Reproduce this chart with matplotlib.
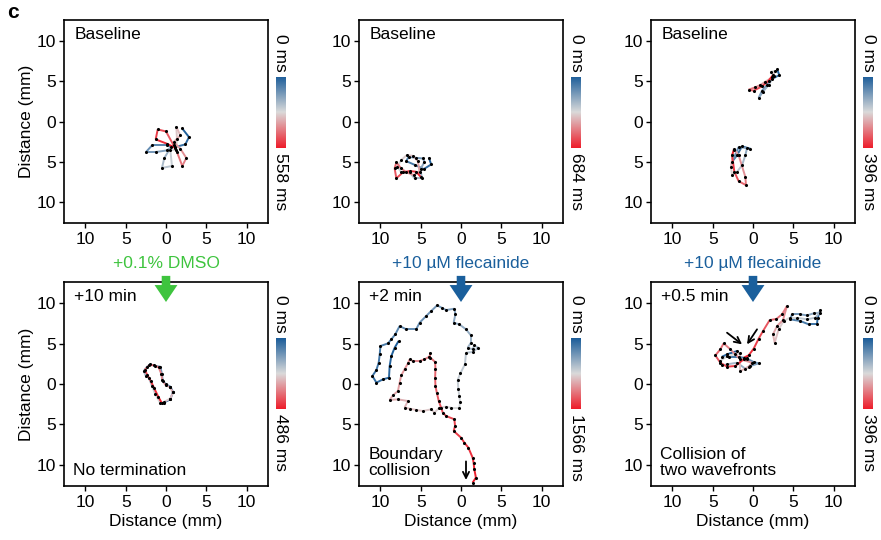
import numpy as np
import matplotlib
matplotlib.use("Agg")
import matplotlib.pyplot as plt
from matplotlib.collections import LineCollection
from matplotlib.colors import LinearSegmentedColormap, Normalize
from matplotlib.patches import Polygon

plt.rcParams['font.family'] = ['Liberation Sans', 'DejaVu Sans']
plt.rcParams['font.size'] = 12

# ---------------- data (mm) ----------------
# Panel A: baseline (DMSO experiment), duration 558 ms
a_x = [1.98, 2.85, 2.40, 1.16, 0.12, -1.74, -2.48, -1.24, 0.12, 0.62, -0.21, -0.50, 0.74, 0.54, 1.24,
       1.36, 1.28, 1.78, 0.95, 1.78, 2.52, 2.02, 1.36, 0.95, 0.00, -1.03, -1.28, 0.12, 1.16]
a_y = [-0.83, -1.94, -2.85, -3.18, -2.98, -2.98, -3.80, -3.80, -3.60, -3.18, -4.55, -5.79, -5.54, -3.60, -3.60,
       -2.15, -0.66, -1.74, -2.56, -3.39, -4.55, -5.54, -3.80, -2.98, -1.24, -0.99, -2.23, -2.77, -3.30]
a_T = 558

# Panel B: baseline (flecainide 1), duration 684 ms
b_x = [-3.99, -3.70, -4.61, -5.68, -6.79, -6.50, -5.56, -4.73, -4.53, -5.02, -4.86, -5.76, -6.38, -7.41, -7.90,
       -7.41, -6.75, -5.97, -5.35, -5.14, -5.84, -6.79, -7.49, -8.02, -8.23, -8.02, -7.20, -6.38, -5.56, -5.02]
b_y = [-4.49, -5.35, -5.93, -5.43, -4.94, -4.40, -4.53, -4.61, -5.02, -5.93, -7.08, -7.08, -6.34, -6.34, -5.64,
       -4.81, -4.20, -4.28, -4.94, -6.26, -6.67, -6.34, -5.76, -5.10, -5.84, -7.08, -6.34, -6.17, -6.26, -6.87]
b_T = 684

# Panel C: baseline (flecainide 2), two rotors, duration 396 ms
c1_x = [2.98, 3.26, 2.36, 1.74, 1.12, 0.70, 1.24, 1.94, 2.56, 2.23, 2.77, 2.36, 1.53, 0.91, 0.29, -0.54, 0.08,
        1.12, 1.94, 2.48]
c1_y = [6.53, 5.79, 5.29, 4.55, 3.84, 2.93, 3.72, 4.55, 5.62, 6.20, 6.32, 5.50, 4.96, 4.55, 4.26, 3.97, 3.84,
        4.38, 5.08, 5.79]
c2_x = [-0.33, -1.36, -1.98, -2.60, -1.78, -0.74, -0.95, -1.36, -1.98, -2.60, -2.73, -2.40, -1.78, -0.95, -0.87,
        -1.78, -2.31, -2.60, -2.40]
c2_y = [-3.39, -3.10, -4.21, -5.04, -3.18, -3.31, -4.21, -5.45, -6.28, -6.69, -5.66, -3.39, -4.21, -6.90, -7.93,
        -7.44, -6.28, -4.21, -3.60]
c_T = 396

# Panel D: +10 min DMSO, duration 486 ms
d_x = [-0.29, 0.54, 0.87, 0.54, 0.00, -0.41, -0.50, -0.70, -1.32, -1.94, -2.36, -2.77, -2.48, -2.15, -1.74,
       -1.32, -0.70, -0.29, 0.54, 0.87, 0.50, -0.05, -0.45, -0.60, -0.90, -1.55, -2.10, -2.62, -2.30, -1.90,
       -1.45, -0.95, -0.55]
d_y = [-2.31, -1.90, -0.99, -0.33, -0.04, 0.37, 1.20, 2.15, 2.23, 2.44, 2.15, 1.61, 0.95, 0.79, -0.25,
       -1.28, -2.40, -2.25, -1.80, -1.05, -0.40, -0.15, 0.45, 1.30, 2.05, 2.35, 2.30, 1.75, 1.10, 0.40,
       -0.55, -1.60, -2.30]
d_T = 486

# Panel E: +2 min flecainide, duration 1566 ms
e_x = [-7.74, -8.23, -8.64, -8.85, -8.93, -9.67, -10.49, -10.99, -10.49, -10.21, -10.08, -9.99, -9.05, -8.64,
       -8.15, -7.61, -6.79, -5.56, -5.14, -4.32, -3.70, -2.96, -2.39, -1.85, -0.82, -0.70, -0.91, -0.21, 0.62,
       1.23, 1.23, 0.82, 1.44, 1.65, 2.14, 1.44, 0.62, 0.49, -0.08, -0.41, -0.33, -0.21, -0.12, -0.21, -1.23,
       -1.85, -2.67, -3.29, -3.70, -4.73, -5.56, -6.38, -7.00, -6.58, -7.82, -8.85, -8.44, -7.82, -7.61, -7.41,
       -7.00, -6.58, -6.38, -5.97, -5.14, -4.53, -3.91, -3.79, -3.79, -3.21, -3.17, -3.21, -3.17, -3.00, -2.76,
       -2.47, -2.26, -1.85, -0.82, -0.74, -0.91, 0.00, 0.41, 0.91, 1.44, 1.56, 1.65, 1.85, 1.44]
e_y = [5.33, 4.50, 3.47, 2.23, 0.79, 0.58, 0.17, 0.99, 1.74, 2.64, 3.68, 4.71, 5.04, 5.54,
       6.16, 7.19, 6.78, 6.78, 7.60, 8.43, 9.05, 9.75, 9.46, 9.17, 9.34, 8.64, 7.60, 7.40, 6.78,
       6.03, 5.12, 4.50, 4.30, 4.79, 4.50, 3.97, 3.88, 2.44, 1.32, 0.50, -0.66, -1.49, -2.23, -2.93, -2.93,
       -2.81, -2.93, -3.55, -3.14, -3.35, -3.22, -3.06, -2.93, -2.11, -1.90, -1.98, -1.40, -0.87, 0.17, 1.07,
       1.82, 2.56, 3.06, 2.85, 2.85, 3.06, 3.39, 3.88, 3.26, 2.73, 1.82, 0.79, -0.25, -1.07, -2.11,
       -2.93, -3.55, -3.97, -4.38, -5.21, -5.83, -6.65, -7.27, -7.89, -9.13, -9.75, -10.58, -11.61, -12.23]
e_T = 1566

# Panel F: +0.5 min flecainide, two wavefronts, duration 396 ms
f1_x = [8.35, 8.02, 7.93, 6.90, 5.87, 4.63, 4.83, 5.87, 6.69, 7.52, 8.26, 7.73, 6.69, 5.45, 4.55, 3.80, 3.18,
        2.69, 2.48, 2.98, 3.72, 4.21, 3.60, 2.89, 2.07, 1.24, 0.70, 0.08, -0.54, -1.16]
f1_y = [9.17, 8.22, 7.40, 7.40, 7.81, 8.02, 8.64, 8.64, 8.51, 8.76, 8.84, 8.22, 8.02, 8.22, 8.22, 7.81, 6.78,
        5.12, 6.16, 7.19, 7.93, 9.67, 8.64, 8.06, 7.93, 6.57, 5.62, 4.38, 3.55, 3.26]
f2_x = [-1.98, -3.22, -3.84, -3.02, -1.78, -0.74, 0.08, 0.70, -0.33, -0.95, -1.98, -3.22, -3.84, -4.05, -3.22,
        -2.19, -1.57, -1.57, -0.54, -0.12, -1.57, -2.81, -3.64, -4.05, -4.67, -4.05, -3.22, -2.19, -1.16, -0.74]
f2_y = [4.09, 3.68, 3.39, 3.39, 3.39, 3.14, 2.73, 2.56, 2.23, 1.90, 2.64, 2.44, 2.31, 2.85, 3.47,
        3.68, 3.80, 1.61, 2.15, 2.64, 3.06, 4.30, 5.04, 4.30, 3.55, 2.64, 2.15, 2.23, 3.06, 3.26]
f_T = 396

tick_vals = [-10, -5, 0, 5, 10]
tick_labels = ['10', '5', '0', '5', '10']

top_texts = ['Baseline', 'Baseline', 'Baseline']
bottom_texts = ['+10 min', '+2 min', '+0.5 min']
corner_texts = ['No termination', 'Boundary\ncollision', 'Collision of\ntwo wavefronts']
treatments = ['+0.1% DMSO', '+10 µM flecainide', '+10 µM flecainide']
treat_colors = ['#3ec43e', '#1a5f9c', '#1a5f9c']

# ---------------- style ----------------
cmap = LinearSegmentedColormap.from_list('bgr', ['#1a5c99', '#dadada', '#ee1c2a'])
W, H = 881, 540
fig = plt.figure(figsize=(W / 100, H / 100), dpi=100)

col_left = [64, 359, 651]
row_top = [20, 282]
row_h = [203, 204]
cb_top = [77, 338]
cb_h = 71
AX_W = 204
LIM = 12.65


def make_axes(r, c):
    l = col_left[c]
    t = row_top[r]
    ax = fig.add_axes([l / W, 1 - (t + row_h[r]) / H, AX_W / W, row_h[r] / H])
    ax.set_xlim(-LIM, LIM)
    ax.set_ylim(-LIM, LIM)
    ax.set_xticks(tick_vals)
    ax.set_xticklabels(tick_labels)
    ax.set_yticks(tick_vals)
    ax.set_yticklabels(tick_labels)
    ax.tick_params(axis='both', direction='out', length=3.5, width=1.0, labelsize=12.5)
    ax.tick_params(axis='x', pad=3)
    ax.tick_params(axis='y', pad=2)
    for s in ax.spines.values():
        s.set_linewidth(1.2)
    cax = fig.add_axes([(l + 212) / W, 1 - (cb_top[r] + cb_h) / H, 10 / W, cb_h / H])
    return ax, cax


def draw_traj(ax, xs, ys, T):
    xs = np.asarray(xs)
    ys = np.asarray(ys)
    t = np.linspace(0, T, len(xs))
    pts = np.column_stack([xs, ys]).reshape(-1, 1, 2)
    segs = np.concatenate([pts[:-1], pts[1:]], axis=1)
    norm = Normalize(0, T)
    lc = LineCollection(segs, cmap=cmap, norm=norm, linewidths=1.4, zorder=2)
    lc.set_array(0.5 * (t[:-1] + t[1:]))
    ax.add_collection(lc)
    ax.scatter(xs, ys, s=5, c='k', zorder=3, linewidths=0)


def draw_cbar(cax, T):
    grad = np.linspace(0, 1, 256).reshape(-1, 1)
    cax.imshow(grad, aspect='auto', cmap=cmap, extent=[0, 1, 1, 0])
    cax.set_axis_off()
    cax.text(0.5, 1.07, '0 ms', rotation=-90, ha='center', va='bottom',
             transform=cax.transAxes, fontsize=12.5)
    cax.text(0.5, -0.07, f'{T} ms', rotation=-90, ha='center', va='top',
             transform=cax.transAxes, fontsize=12.5)


def down_arrow(ax, color):
    hw, hh = 0.021, 0.056
    top, base, tip = 1.03, 0.985, 0.902
    verts = [(0.5 - hw, top), (0.5 + hw, top), (0.5 + hw, base), (0.5 + hh, base),
             (0.5, tip), (0.5 - hh, base), (0.5 - hw, base)]
    p = Polygon(verts, closed=True, transform=ax.transAxes, facecolor=color,
                edgecolor='none', clip_on=False, zorder=5)
    ax.add_patch(p)


top_data = [[(a_x, a_y, a_T)], [(b_x, b_y, b_T)], [(c1_x, c1_y, c_T), (c2_x, c2_y, c_T)]]
bot_data = [[(d_x, d_y, d_T)], [(e_x, e_y, e_T)], [(f1_x, f1_y, f_T), (f2_x, f2_y, f_T)]]
top_T = [a_T, b_T, c_T]
bot_T = [d_T, e_T, f_T]

axes = {}
for c in range(3):
    ax, cax = make_axes(0, c)
    for xs, ys, T in top_data[c]:
        draw_traj(ax, xs, ys, T)
    draw_cbar(cax, top_T[c])
    ax.text(0.05, 0.965, top_texts[c], transform=ax.transAxes, ha='left', va='top', fontsize=12.5)
    if c == 0:
        ax.set_ylabel('Distance (mm)', fontsize=12.5, labelpad=2)
    axes[(0, c)] = ax

    ax, cax = make_axes(1, c)
    for xs, ys, T in bot_data[c]:
        draw_traj(ax, xs, ys, T)
    draw_cbar(cax, bot_T[c])
    ax.text(0.05, 0.965, bottom_texts[c], transform=ax.transAxes, ha='left', va='top', fontsize=12.5)
    ax.text(0.045, 0.04, corner_texts[c], transform=ax.transAxes, ha='left', va='bottom',
            fontsize=12.5, linespacing=1.05)
    ax.set_xlabel('Distance (mm)', fontsize=12.5, labelpad=3)
    if c == 0:
        ax.set_ylabel('Distance (mm)', fontsize=12.5, labelpad=2)
    down_arrow(ax, treat_colors[c])
    ax.text(0.5, 1.093, treatments[c], transform=ax.transAxes, ha='center', va='center',
            fontsize=12.5, color=treat_colors[c])
    axes[(1, c)] = ax

# small annotation arrows
arrow_kw = dict(arrowstyle='->', color='k', lw=1.3, mutation_scale=11, shrinkA=0, shrinkB=0)
axE = axes[(1, 1)]
axE.annotate('', xy=(0.62, -11.9), xytext=(0.62, -9.6), arrowprops=arrow_kw)
axF = axes[(1, 2)]
axF.annotate('', xy=(-1.36, 4.92), xytext=(-3.22, 6.36), arrowprops=arrow_kw)
axF.annotate('', xy=(-0.74, 4.92), xytext=(0.50, 6.78), arrowprops=arrow_kw)

fig.text(7 / W, 1 - 3 / H, 'c', fontsize=15, fontweight='bold', ha='left', va='top')

fig.savefig('out.png', dpi=100)
